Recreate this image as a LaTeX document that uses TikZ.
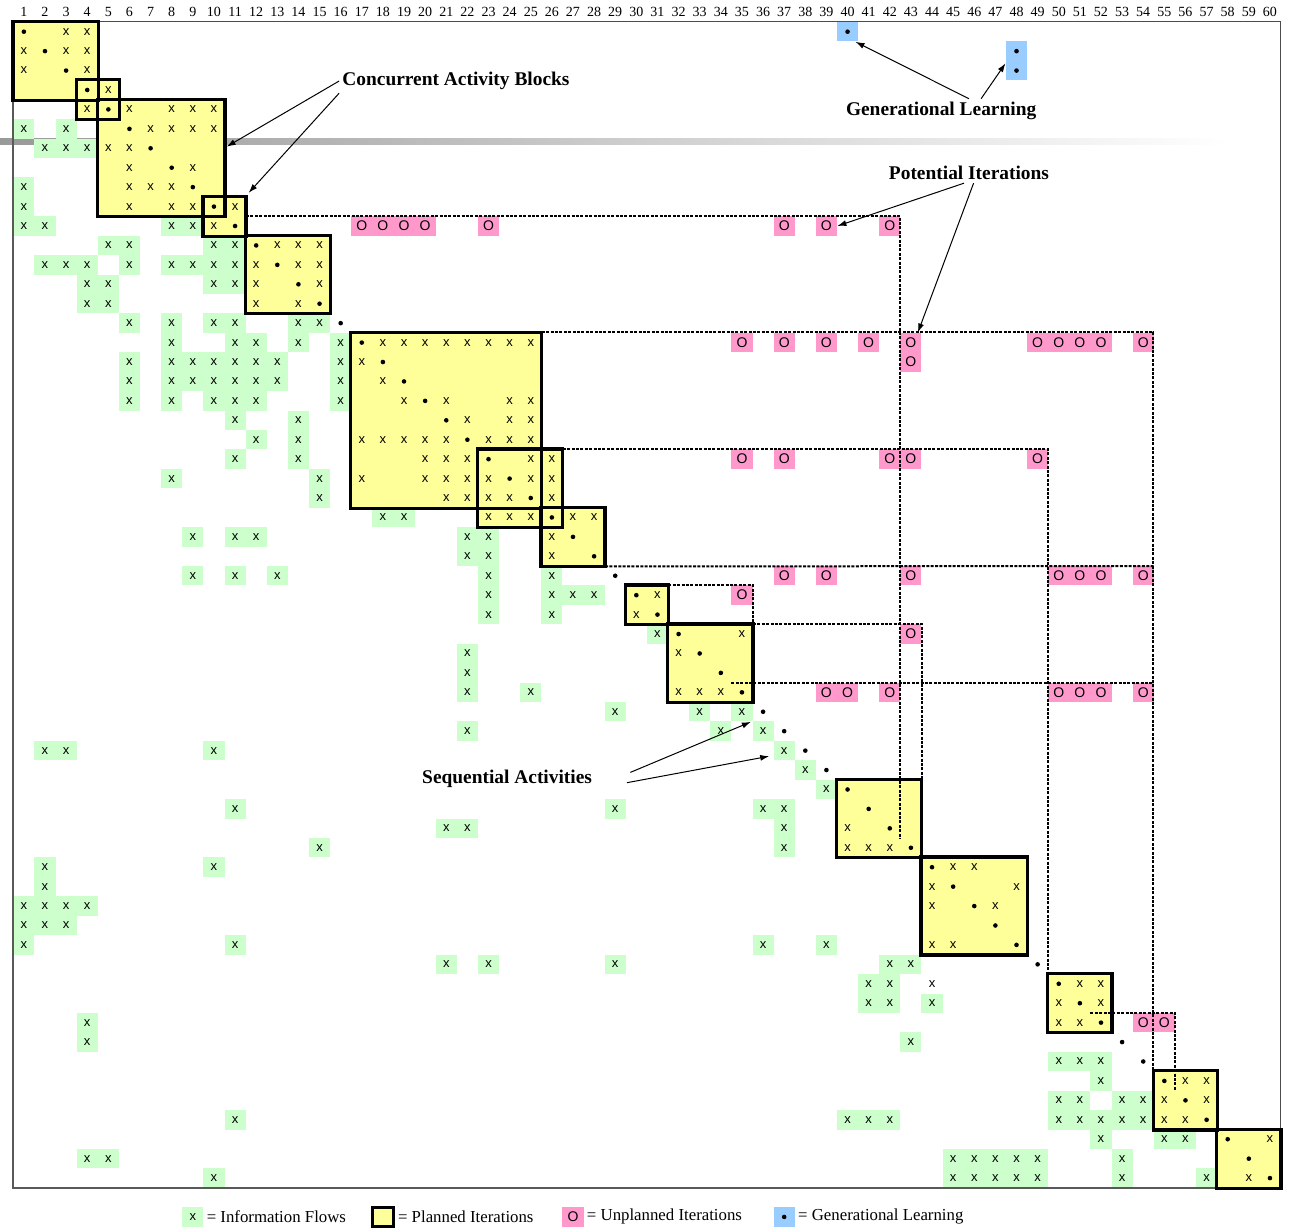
\documentclass[tikz,border=0pt]{standalone}
\usepackage{fontspec}
\setmainfont{Liberation Serif}
\newfontfamily\cellfont{Liberation Sans}
\usetikzlibrary{arrows.meta,positioning,fit}
\definecolor{dsmgreen}{HTML}{CCFFCC}
\definecolor{dsmyellow}{HTML}{FFFF99}
\definecolor{dsmpink}{HTML}{FF99CC}
\definecolor{dsmblue}{HTML}{99CCFF}
\tikzset{
  cell/.style={rectangle, inner sep=0pt, minimum width=10.56pt, minimum height=9.715pt, font=\cellfont\fontsize{6.5}{7}\selectfont},
  info/.style={cell, fill=dsmgreen},
  flow/.style={cell},
  unpl/.style={cell, fill=dsmpink, font=\cellfont\fontsize{7}{8}\selectfont},
  learn/.style={cell, fill=dsmblue},
  dot/.style={circle, fill=black, inner sep=0pt, minimum size=2.3pt},
  planfill/.style={rectangle, inner sep=0pt, fill=dsmyellow},
  planline/.style={line width=1.6pt, line join=miter},
  potline/.style={line width=1pt, dash pattern=on 1.5pt off 0.7pt},
  colnum/.style={font=\fontsize{7}{8}\selectfont, inner sep=0pt},
  note/.style={font=\bfseries\fontsize{9.7}{11}\selectfont, inner sep=1.5pt},
  arr/.style={-{Latex[length=4.5pt,width=3pt]}, line width=0.5pt},
  legtxt/.style={font=\fontsize{8.4}{10}\selectfont, inner sep=1.3pt},
}

\begin{document}
\begin{tikzpicture}[x=10.56pt, y=-9.715pt]
  \useasboundingbox (-0.63,-1.132) rectangle (60.45,62.07);
  % faint bar behind the matrix
  \shade[left color=black!40, right color=white] (-0.63,5.99) rectangle (57.6,6.3);
  % planned iteration blocks
  \foreach \n/\a/\b in {1/1/4, 2/4/5, 3/5/10, 4/10/11, 5/12/15, 6/17/25, 7/23/26, 8/26/28, 9/30/31, 10/32/35, 11/40/43, 12/44/48, 13/50/52, 14/55/57, 15/58/60}
    \node[planfill, fit={(\a-1,\a-1) (\b,\b)}] (b\n) {};
  % information flows
  \foreach \r/\cl in {6/{1,3}, 7/{2,3,4}, 9/{1}, 10/{1}, 11/{1,2,8,9}, 12/{5,6,10,11}, 13/{2,3,4,6,8,9,10,11}, 14/{4,5,10,11}, 15/{4,5}, 16/{6,8,10,11,14,15}, 17/{8,11,12,14,16}, 18/{6,8,9,10,11,12,13,16}, 19/{6,8,9,10,11,12,13,16}, 20/{6,8,10,11,12,16}, 21/{11,14}, 22/{12,14}, 23/{11,14}, 24/{8,15}, 25/{15}, 26/{18,19}, 27/{9,11,12,22,23}, 28/{22,23}, 29/{9,11,13,23,26}, 30/{23,26,27,28}, 31/{23,26}, 32/{31}, 33/{22}, 34/{22}, 35/{22,25}, 36/{29,33,35}, 37/{22,34,36}, 38/{2,3,10,37}, 39/{38}, 40/{39}, 41/{11,29,36,37}, 42/{21,22,37}, 43/{15,37}, 44/{2,10}, 45/{2}, 46/{1,2,3,4}, 47/{1,2,3}, 48/{1,11,36,39}, 49/{21,23,29,42,43}, 50/{41,42}, 51/{41,42,44}, 52/{4}, 53/{4,43}, 54/{50,51,52}, 55/{52}, 56/{50,51,53,54}, 57/{11,40,41,42,50,51,52,53,54}, 58/{52,55,56}, 59/{4,5,45,46,47,48,49,53}, 60/{10,45,46,47,48,49,53,57}}
    \foreach \c in \cl \node[info] (x-\r-\c) at (\c-.5,\r-.5) {x};
  \foreach \r/\cl in {1/{3,4}, 2/{1,3,4}, 3/{1,4}, 4/{5}, 5/{4,6,8,9,10}, 6/{7,8,9,10}, 7/{5,6}, 8/{6,9}, 9/{6,7,8}, 10/{6,8,9,11}, 11/{10}, 12/{13,14,15}, 13/{12,14,15}, 14/{12,15}, 15/{12,14}, 17/{18,19,20,21,22,23,24,25}, 18/{17}, 19/{18}, 20/{19,21,24,25}, 21/{22,24,25}, 22/{17,18,19,20,21,23,24,25}, 23/{20,21,22,25,26}, 24/{17,20,21,22,23,25,26}, 25/{21,22,23,24,26}, 26/{23,24,25,27,28}, 27/{26}, 28/{26}, 30/{31}, 31/{30}, 32/{35}, 33/{32}, 35/{32,33,34}, 42/{40}, 43/{40,41,42}, 44/{45,46}, 45/{44,48}, 46/{44,47}, 48/{44,45}, 50/{44,51,52}, 51/{50,52}, 52/{50,51}, 55/{56,57}, 56/{55,57}, 57/{55,56}, 58/{60}, 60/{59}}
    \foreach \c in \cl \node[flow] (x-\r-\c) at (\c-.5,\r-.5) {x};
  % unplanned iterations
  \foreach \r/\cl in {11/{17,18,19,20,23,37,39,42}, 17/{35,37,39,41,43,49,50,51,52,54}, 18/{43}, 23/{35,37,42,43,49}, 29/{37,39,43,50,51,52,54}, 30/{35}, 32/{43}, 35/{39,40,42,50,51,52,54}, 52/{54,55}}
    \foreach \c in \cl \node[unpl] (o-\r-\c) at (\c-.5,\r-.5) {O};
  % generational learning
  \node[learn] (g1) at (39.5,.5) {};
  \node[learn] (g2) at (47.5,1.5) {};
  \node[learn] (g3) at (47.5,2.5) {};
  \foreach \n in {1,2,3} \node[dot] (gd\n) at (g\n) {};
  \foreach \i in {1,...,60} \node[dot] (d-\i) at (\i-.5,\i-.5) {};
  % frame
  \draw[gray!60!black, line width=0.5pt] (0,0) rectangle (60,60);
  \draw[gray!70!black, line width=1pt] (0,0) -- (0,60) -- (60,60);
  \foreach \n in {1,...,15} \draw[planline] (b\n.north west) rectangle (b\n.south east);
  % potential iterations
  \draw[potline] (b4.east) -| (42,42);
  \draw[potline] (b6.north east) -| (b14.north west);
  \draw[potline] (b7.north east) -| (b13.north west);
  \draw[potline] (b8.south east) -- (54,28);
  \draw[potline] (b9.north east) -| (b10.north east);
  \draw[potline] (b10.north east) -| (b11.north east);
  \draw[potline] (34,34) -- (54,34);
  \draw[potline] (51,51) -| (55,55);
  \foreach \c in {1,...,60} \node[colnum] (n\c) at (\c-.5,-.53) {\c};
  % callouts
  \node[note] (cab) at (20.96,3.04) {Concurrent Activity Blocks};
  \coordinate (cab1) at (10.1,6.42);
  \draw[arr] (cab.west) -- (cab1);
  \draw[arr] (cab.south west) -- ([xshift=1.3pt,yshift=1.8pt]b4.north east);
  \node[note] (gl) at (43.93,4.58) {Generational Learning};
  \draw[arr] ([xshift=13.9pt]gl.north) -- ([xshift=-1.5pt]g1.south east);
  \draw[arr] ([xshift=20pt]gl.north) -- ([yshift=-1pt]g2.south west);
  \node[note] (pit) at (45.25,7.77) {Potential Iterations};
  \draw[arr] ([xshift=-2.5pt]pit.south) -- (o-11-39.east);
  \draw[arr] ([xshift=2.3pt]pit.south) -- ([xshift=-2pt]o-17-43.north east);
  \node[note] (sa) at (23.38,38.96) {Sequential Activities};
  \draw[arr] ([xshift=17.5pt,yshift=3.3pt]sa.east) -- ([xshift=-1pt]x-36-35.south east);
  \draw[arr] ([xshift=15.8pt,yshift=-1.85pt]sa.east) -- ([xshift=-2pt,yshift=-2.8pt]x-38-37.west);
  % legend
  \node[info] (lg1) at (8.5,61.5) {x};
  \node[legtxt, right=0pt of lg1] (lt1) {= Information Flows};
  \node[planfill, draw, line width=1.6pt, minimum width=10.56pt, minimum height=9.715pt] (lg2) at (17.5,61.5) {};
  \node[legtxt, right=0pt of lg2] (lt2) {= Planned Iterations};
  \node[unpl] (lg3) at (26.5,61.5) {O};
  \node[legtxt, right=0pt of lg3] (lt3) {= Unplanned Iterations};
  \node[learn] (lg4) at (36.5,61.5) {};
  \node[dot] (lg4d) at (lg4) {};
  \node[legtxt, right=0pt of lg4] (lt4) {= Generational Learning};
\end{tikzpicture}
\end{document}
